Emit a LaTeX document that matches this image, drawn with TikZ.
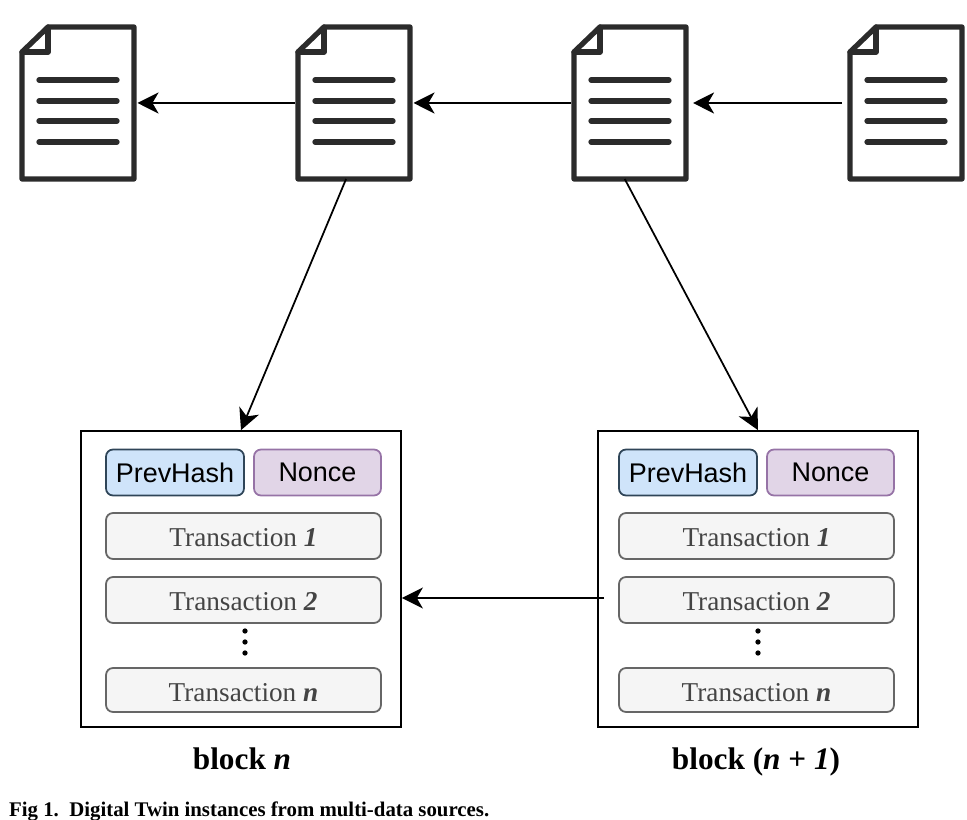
\documentclass[tikz,border=0pt]{standalone}
\usepackage{fontspec}
\setmainfont{Liberation Serif}
\newfontfamily\hashfont{Liberation Sans}
\usetikzlibrary{arrows.meta}

\definecolor{iconink}{HTML}{2B2B2B}
\definecolor{hashfill}{HTML}{CFE4FA}
\definecolor{hashline}{HTML}{2F4558}
\definecolor{noncefill}{HTML}{E1D5E7}
\definecolor{nonceline}{HTML}{9673A6}
\definecolor{txfill}{HTML}{F5F5F5}
\definecolor{txline}{HTML}{666666}
\definecolor{txtext}{HTML}{444444}

\newcommand{\txtext}[2][5.7pt]{\raisebox{-#1}[0pt][0pt]{Transaction \textbf{\textit{#2}}}}

\tikzset{
    link/.style={-{Stealth[length=12pt,width=12pt,inset=3.5pt]}, line width=1pt, black},
    docbox/.style={minimum width=2.24cm, minimum height=3.04cm, inner sep=0pt, outer sep=0pt},
    docline/.style={iconink, line width=3pt, line join=round, line cap=round},
    blockbox/.style={draw=black, line width=1pt, minimum width=6.4cm, minimum height=5.92cm, inner sep=0pt},
    field/.style={rounded corners=4pt, line width=1pt, inner sep=0pt, minimum height=0.92cm},
    hashbox/.style={field, draw=hashline, fill=hashfill, minimum width=2.76cm, font=\hashfont\fontsize{15.35}{18}\selectfont},
    noncebox/.style={field, draw=nonceline, fill=noncefill, minimum width=2.54cm, font=\hashfont\fontsize{15.35}{18}\selectfont},
    txbox/.style={field, draw=txline, fill=txfill, minimum width=5.5cm, text=txtext, font=\fontsize{15.5}{18}\selectfont},
    blocklabel/.style={anchor=base, font=\bfseries\fontsize{17.8}{20}\selectfont},
}

\begin{document}
\begin{tikzpicture}[x=0.02cm, y=-0.02cm]
    \useasboundingbox (0,0) rectangle (967,820);

    % documents along the top
    \foreach \i/\xc in {1/78, 2/354, 3/630, 4/906} {
        \node[docbox] (doc\i) at (\xc,103) {};
        \draw[docline] (doc\i.north west) ++(26,0) -- (doc\i.north east) -- (doc\i.south east)
            -- (doc\i.south west) -- ++(0,-127) -- cycle;
        \draw[docline] (doc\i.north west) ++(26,0) -- ++(0,25) -- ++(-26,0);
        \foreach \y in {80, 101, 121, 142} {
            \draw[docline] (\xc-39,\y) -- (\xc+39,\y);
        }
    }

    \draw[link] (doc2) ++(-59,0) -- ([xshift=2pt]doc1.east);
    \draw[link] (doc3) ++(-59,0) -- ([xshift=2pt]doc2.east);
    \draw[link, shorten >=4pt] (doc4) ++(-64,0) -- (doc3.east);

    % blocks
    \foreach \b/\dx in {1/0, 2/517} {
        \node[blockbox] (block\b) at (241+\dx,579) {};
    }
    \foreach \b/\dx in {1/0, 2/513} {
        \node[hashbox] (hash\b) at (175+\dx,472.5) {PrevHash};
        \node[noncebox] (nonce\b) at (317.5+\dx,472.5) {Nonce};
        \node[txbox] (txa\b) at (243.5+\dx,536) {\txtext{1}};
        \node[txbox] (txb\b) at (243.5+\dx,600) {\txtext{2}};
        \node[txbox, minimum height=0.88cm] (txn\b) at (243.5+\dx,690) {\txtext[6.6pt]{n}};
        \foreach \y in {631, 642, 653} {
            \fill (245+\dx,\y) circle (1.5pt);
        }
    }

    \node[blocklabel] (labela) at (242,769) {block \textit{n}};
    \node[blocklabel] (labelb) at (756,769) {block (\textit{n} + \textit{1})};

    \draw[link] ([xshift=-4.5pt]doc2.south) -- (block1.north);
    \draw[link] ([xshift=-3pt]doc3.south) -- (block2.north);

    \coordinate (start) at (604,598);
    \draw[link] (start) -- (block1.east |- start);

    \node[anchor=west, font=\bfseries\fontsize{11.85}{13}\selectfont] (caption) at (3,811)
        {Fig 1.\ \ Digital Twin instances from multi-data sources.};
\end{tikzpicture}
\end{document}
